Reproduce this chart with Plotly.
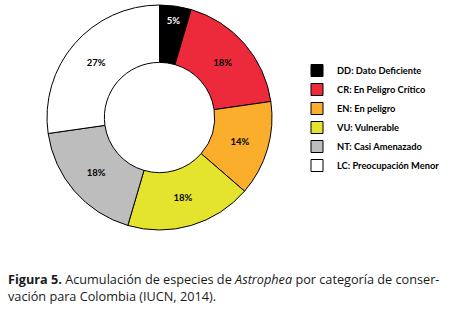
import plotly.graph_objects as go

categories = ["DD: Dato Deficiente", "CR: En Peligro Crítico", "EN: En peligro",
              "VU: Vulnerable", "NT: Casi Amenazado", "LC: Preocupación Menor"]
species_counts = [1, 4, 3, 4, 4, 6]
colors = ["#000000", "#EC2A3C", "#FAAE2B", "#E4E42E", "#BDBDBD", "#FFFFFF"]
text_colors = ["#FFFFFF", "#000000", "#000000", "#000000", "#000000", "#000000"]

fig = go.Figure(go.Pie(
    labels=categories,
    values=species_counts,
    sort=False,
    direction="clockwise",
    rotation=0,
    hole=0.49,
    marker=dict(colors=colors, line=dict(color="#000000", width=1)),
    texttemplate="%{percent:.0%}",
    textposition="inside",
    insidetextorientation="horizontal",
    textfont=dict(family="Lato", size=9.5, color=text_colors, weight="bold"),
    domain=dict(x=[47/450, 272/450], y=[(311-230)/311, (311-5)/311]),
))

fig.update_layout(
    width=450, height=311,
    margin=dict(l=0, r=0, t=0, b=0),
    paper_bgcolor="white", plot_bgcolor="white",
    showlegend=True,
    legend=dict(x=297/450, y=(311-56)/311, xanchor="left", yanchor="top",
                font=dict(family="Lato", size=9.3, color="#000000", weight="bold"),
                itemwidth=30, tracegroupgap=0, bgcolor="rgba(0,0,0,0)"),
    annotations=[dict(
        x=6/450, y=(311-268)/311, xref="paper", yref="paper",
        xanchor="left", yanchor="top", align="left", showarrow=False,
        text="<b>Figura 5.</b> Acumulación de especies de <i>Astrophea</i> por categoría de conser-<br>vación para Colombia (IUCN, 2014).",
        font=dict(family="Open Sans", size=12.7, color="#1a1a1a"),
    )],
)
fig.write_html("out.html", config={"displayModeBar": False},
               post_script="document.body.style.margin='0px';")
